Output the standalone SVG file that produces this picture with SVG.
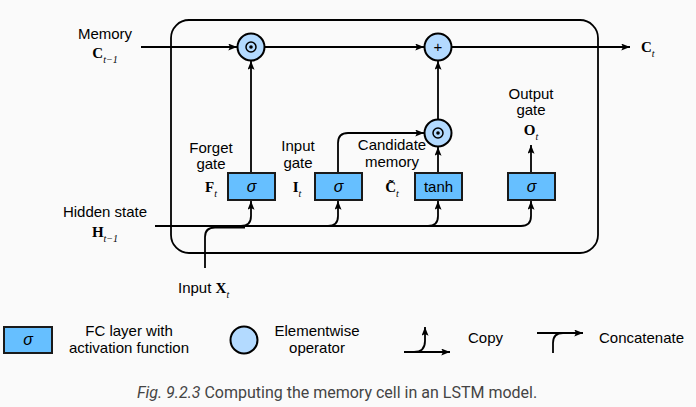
<svg xmlns="http://www.w3.org/2000/svg" width="696" height="407" viewBox="0 0 696 407">
<defs>
<marker id="ah" viewBox="0 0 10 8" refX="10" refY="4" markerWidth="9" markerHeight="7" orient="auto" markerUnits="userSpaceOnUse"><path d="M0,0 L10,4 L0,8 L2,4 z" fill="#000"/></marker>
</defs>
<style>
.ln{fill:none;stroke:#000;stroke-width:1.8}
.arr{fill:none;stroke:#000;stroke-width:1.8;marker-end:url(#ah)}
.box{fill:#66bfff;stroke:#1a1a1a;stroke-width:2}
.op{fill:#b3daff;stroke:#000;stroke-width:2}
.t{font-family:"Liberation Sans",Arial,sans-serif;font-size:15px;fill:#000}
.m{font-family:"Liberation Serif","DejaVu Serif",serif;font-size:15px;font-weight:bold;fill:#000}
.s{font-family:"Liberation Serif","DejaVu Serif",serif;font-size:10px;font-style:italic;font-weight:normal}
.sig{font-family:"Liberation Sans",Arial,sans-serif;font-size:16px;font-style:italic;fill:#000}
.cap{font-family:Roboto,"Liberation Sans",sans-serif;font-size:16px;fill:#444}
</style>
<rect width="696" height="407" fill="#fafafa"/>
<rect id="cell" x="171" y="20" width="427" height="233" rx="18" class="ln" stroke-width="2"/>

<g id="connectors">
<path class="arr" d="M141,47 H237"/>
<path class="arr" d="M265,47 H424"/>
<path class="arr" d="M452,47 H630"/>
<path class="arr" d="M438,119 V61"/>
<path class="arr" d="M251,173 V61"/>
<path class="arr" d="M338,173 V143 Q338,133 348,133 H424"/>
<path class="arr" d="M438,173 V147"/>
<path class="arr" d="M531,173 V145"/>
<path class="arr" d="M155,226 H521 Q531,226 531,216 V201"/>
<path class="ln" d="M205,268 V237 Q205,227.5 215,227.5 H245"/>
<path class="arr" d="M241,226 Q251,226 251,216 V201"/>
<path class="arr" d="M328,226 Q338,226 338,216 V201"/>
<path class="arr" d="M428,226 Q438,226 438,216 V201"/>
</g>

<g id="op-forget"><circle cx="251" cy="47" r="13.5" class="op"/><circle cx="251" cy="47" r="5" fill="none" stroke="#000" stroke-width="1.5"/><circle cx="251" cy="47" r="1.8" fill="#000"/></g>
<g id="op-plus"><circle cx="438" cy="47" r="13.5" class="op"/><text x="438" y="51.5" class="t" font-size="13" text-anchor="middle">+</text></g>
<g id="op-input"><circle cx="438" cy="133" r="13.5" class="op"/><circle cx="438" cy="133" r="5" fill="none" stroke="#000" stroke-width="1.5"/><circle cx="438" cy="133" r="1.8" fill="#000"/></g>

<g id="fc-forget"><rect x="228" y="173" width="47" height="27" class="box"/><text x="251.5" y="192" class="sig" text-anchor="middle">σ</text></g>
<g id="fc-input"><rect x="315" y="173" width="47" height="27" class="box"/><text x="338.5" y="192" class="sig" text-anchor="middle">σ</text></g>
<g id="fc-cand"><rect x="415" y="173" width="47" height="27" class="box"/><text x="438.5" y="192" class="t" text-anchor="middle">tanh</text></g>
<g id="fc-output"><rect x="508" y="173" width="47" height="27" class="box"/><text x="531.5" y="192" class="sig" text-anchor="middle">σ</text></g>

<g id="labels">
<text x="105" y="39" class="t" text-anchor="middle">Memory</text>
<text x="105" y="58" class="m" text-anchor="middle">C<tspan class="s" dy="5">t−1</tspan></text>
<text x="641" y="52" class="m">C<tspan class="s" dy="5">t</tspan></text>
<text x="211" y="153" class="t" text-anchor="middle">Forget</text>
<text x="211" y="169" class="t" text-anchor="middle">gate</text>
<text x="211" y="192" class="m" text-anchor="middle">F<tspan class="s" dy="5">t</tspan></text>
<text x="298" y="151" class="t" text-anchor="middle">Input</text>
<text x="298" y="168" class="t" text-anchor="middle">gate</text>
<text x="297" y="192" class="m" text-anchor="middle">I<tspan class="s" dy="5">t</tspan></text>
<text x="392" y="150" class="t" text-anchor="middle">Candidate</text>
<text x="392" y="167" class="t" text-anchor="middle">memory</text>
<text x="392" y="192" class="m" text-anchor="middle">C̃<tspan class="s" dy="5">t</tspan></text>
<text x="531" y="99" class="t" text-anchor="middle">Output</text>
<text x="531" y="115" class="t" text-anchor="middle">gate</text>
<text x="531" y="135" class="m" text-anchor="middle">O<tspan class="s" dy="5">t</tspan></text>
<text x="105" y="217" class="t" text-anchor="middle">Hidden state</text>
<text x="105" y="237" class="m" text-anchor="middle">H<tspan class="s" dy="5">t−1</tspan></text>
<text x="178" y="293" class="t">Input <tspan class="m">X</tspan><tspan class="s" dy="5">t</tspan></text>
</g>

<g id="legend">
<rect x="4" y="327" width="48" height="26" class="box"/><text x="28" y="345" class="sig" text-anchor="middle">σ</text>
<text x="129" y="336" class="t" text-anchor="middle">FC layer with</text>
<text x="129" y="353" class="t" text-anchor="middle">activation function</text>
<circle cx="244" cy="340" r="13.5" class="op"/>
<text x="317" y="336" class="t" text-anchor="middle">Elementwise</text>
<text x="317" y="353" class="t" text-anchor="middle">operator</text>
<path class="arr" d="M404,352 H450"/>
<path class="arr" d="M414,352 Q425,352 425,341 V327"/>
<text x="468" y="343" class="t">Copy</text>
<path class="arr" d="M537,333 H583"/>
<path class="ln" d="M553,353 V343 Q553,333 563,333"/>
<text x="599" y="343" class="t">Concatenate</text>
</g>

<text x="137" y="398" class="cap"><tspan font-style="italic">Fig. 9.2.3</tspan> Computing the memory cell in an LSTM model.</text>
</svg>
